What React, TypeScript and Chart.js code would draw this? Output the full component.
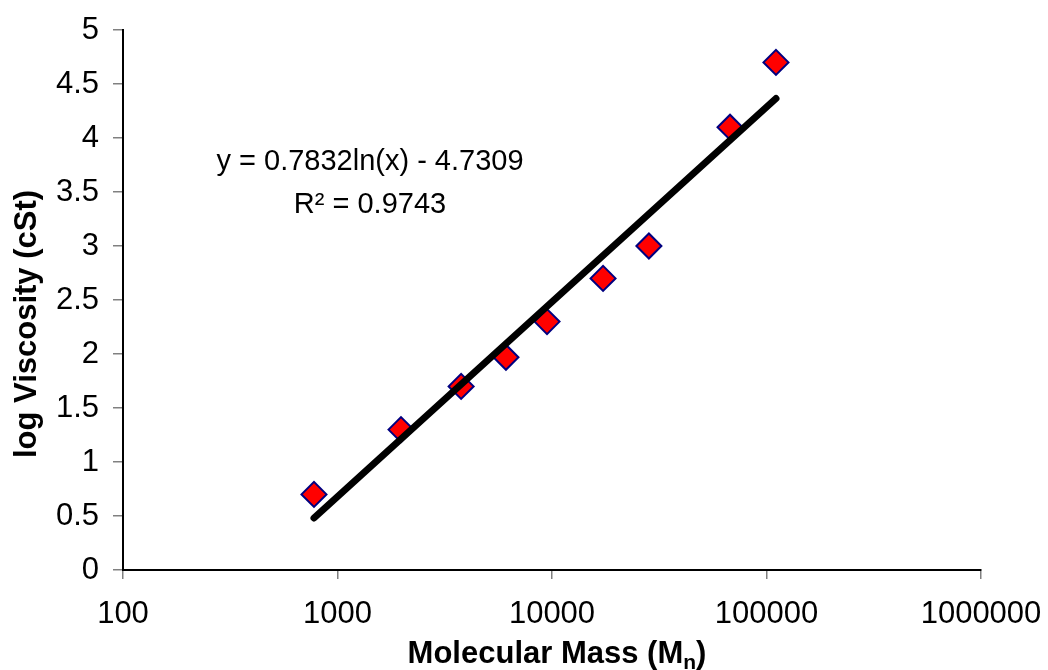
import React, { useEffect, useRef } from "react";
import { Chart, registerables } from "chart.js";

Chart.register(...registerables);

// Data
const molecularMass = [777, 1977, 3770, 6100, 9480, 17300, 28300, 67600, 110700];
const logViscosity = [0.7, 1.3, 1.7, 1.97, 2.3, 2.7, 3.0, 4.1, 4.7];
const xTickValues = [100, 1000, 10000, 100000, 1000000];
const yTickValues = [0, 0.5, 1, 1.5, 2, 2.5, 3, 3.5, 4, 4.5, 5];

// Logarithmic trendline y = a ln(x) + b (as displayed)
const trendA = 0.7832;
const trendB = -4.7309;
const trendLabel = "y = 0.7832ln(x) - 4.7309";
const r2Label = "R\u00B2 = 0.9743";

const FONT = "'Liberation Sans', Arial, Helvetica, sans-serif";

const textPlugin = {
  id: "customText",
  afterDraw(chart: any) {
    const ctx = chart.ctx;
    ctx.save();
    ctx.fillStyle = "#000";

    // Y axis title
    ctx.save();
    ctx.font = `bold 31px ${FONT}`;
    ctx.translate(36, 324);
    ctx.rotate(-Math.PI / 2);
    ctx.textAlign = "center";
    ctx.textBaseline = "alphabetic";
    ctx.fillText("log Viscosity (cSt)", 0, 0);
    ctx.restore();

    // X axis title with subscript
    const main = "Molecular Mass (M";
    const sub = "n";
    const end = ")";
    const bigFont = `bold 31px ${FONT}`;
    const smallFont = `bold 21px ${FONT}`;
    ctx.font = bigFont;
    const wMain = ctx.measureText(main).width;
    const wEnd = ctx.measureText(end).width;
    ctx.font = smallFont;
    const wSub = ctx.measureText(sub).width;
    const total = wMain + wSub + wEnd;
    const cx = 557;
    const x0 = cx - total / 2;
    const base = 663;
    ctx.textAlign = "left";
    ctx.textBaseline = "alphabetic";
    ctx.font = bigFont;
    ctx.fillText(main, x0, base);
    ctx.font = smallFont;
    ctx.fillText(sub, x0 + wMain, base + 6);
    ctx.font = bigFont;
    ctx.fillText(end, x0 + wMain + wSub, base);

    // Trendline equation
    ctx.font = `29px ${FONT}`;
    ctx.textAlign = "center";
    ctx.textBaseline = "middle";
    ctx.fillText(trendLabel, 370, 162);
    ctx.fillText(r2Label, 370, 205);

    ctx.restore();
  },
};

export default function App() {
  const canvasRef = useRef<HTMLCanvasElement | null>(null);

  useEffect(() => {
    if (!canvasRef.current) return;
    const xMin = Math.min(...molecularMass);
    const xMax = Math.max(...molecularMass);
    const trendData = [xMin, xMax].map((x) => ({ x, y: trendA * Math.log(x) + trendB }));
    const points = molecularMass.map((x, i) => ({ x, y: logViscosity[i] }));

    const chart = new Chart(canvasRef.current, {
      type: "scatter",
      data: {
        datasets: [
          {
            label: "Trend",
            data: trendData,
            showLine: true,
            borderColor: "#000",
            borderWidth: 7,
            borderCapStyle: "round",
            pointRadius: 0,
            order: 0,
          } as any,
          {
            label: "Viscosity",
            data: points,
            pointStyle: "rectRot",
            pointRadius: 12.5,
            backgroundColor: "#FF0000",
            borderColor: "#000080",
            borderWidth: 2,
            order: 1,
          } as any,
        ],
      },
      options: {
        responsive: false,
        animation: false,
        layout: { padding: { left: 0, top: 30, right: 67, bottom: 0 } },
        plugins: {
          legend: { display: false },
          tooltip: { enabled: false },
        },
        scales: {
          x: {
            type: "logarithmic",
            min: 100,
            max: 1000000,
            afterBuildTicks: (scale: any) => {
              scale.ticks = xTickValues.map((v) => ({ value: v }));
            },
            afterFit: (scale: any) => {
              scale.height = 100;
              scale.paddingLeft = 0;
              scale.paddingRight = 0;
            },
            ticks: {
              autoSkip: false,
              maxRotation: 0,
              padding: 17,
              color: "#000",
              font: { family: FONT, size: 31 },
              callback: (v: any) => String(v),
            },
            grid: {
              display: true,
              drawOnChartArea: false,
              drawTicks: true,
              tickLength: 9,
              color: "#808080",
              lineWidth: 1.5,
            },
            border: { display: true, color: "#000", width: 2 },
          },
          y: {
            type: "linear",
            min: 0,
            max: 5,
            afterBuildTicks: (scale: any) => {
              scale.ticks = yTickValues.map((v) => ({ value: v }));
            },
            afterFit: (scale: any) => {
              scale.width = 123;
              scale.paddingTop = 0;
              scale.paddingBottom = 0;
            },
            ticks: {
              autoSkip: false,
              padding: 14,
              color: "#000",
              font: { family: FONT, size: 31 },
              callback: (v: any) => String(v),
            },
            grid: {
              display: true,
              drawOnChartArea: false,
              drawTicks: true,
              tickLength: 10,
              color: "#808080",
              lineWidth: 1.5,
            },
            border: { display: true, color: "#000", width: 2 },
          },
        },
      } as any,
      plugins: [textPlugin],
    });

    return () => chart.destroy();
  }, []);

  return (
    <div style={{ position: "fixed", left: 0, top: 0, width: 1048, height: 670, background: "#fff" }}>
      <canvas ref={canvasRef} width={1048} height={670} style={{ display: "block" }} />
    </div>
  );
}
